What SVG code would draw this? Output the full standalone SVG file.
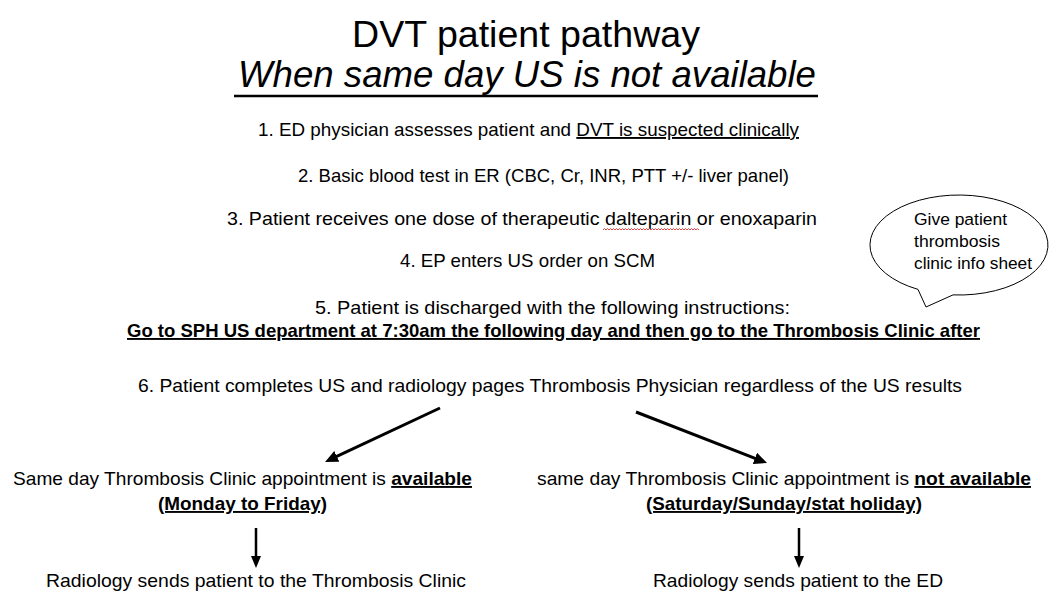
<svg xmlns="http://www.w3.org/2000/svg" width="1050" height="595" viewBox="0 0 1050 595">
  <style>
    text { font-family: "Liberation Sans", Arial, sans-serif; fill: #000; }
    .body { font-size: 19px; }
    .call { font-size: 16.7px; }
    .b { font-weight: bold; }
    .u { text-decoration: underline; text-decoration-skip-ink: none; }
    .conn { stroke: #000; fill: none; }
  </style>
  <defs>
    <marker id="ah" markerUnits="userSpaceOnUse" markerWidth="14" markerHeight="12" refX="3" refY="6" orient="auto">
      <path d="M0,0 L13,6 L0,12 z" fill="#000"/>
    </marker>
    <marker id="ahs" markerUnits="userSpaceOnUse" markerWidth="13" markerHeight="11" refX="2" refY="5" orient="auto">
      <path d="M0,0 L12,5 L0,10 z" fill="#000"/>
    </marker>
  </defs>
  <rect width="1050" height="595" fill="#fff"/>

  <g id="title">
    <text x="352" y="47" font-size="36" textLength="348" lengthAdjust="spacingAndGlyphs">DVT patient pathway</text>
    <text x="238" y="87" font-size="36" font-style="italic" textLength="578" lengthAdjust="spacingAndGlyphs">When same day US is not available</text>
    <line x1="234" y1="96" x2="818" y2="96" stroke="#000" stroke-width="2.6"/>
  </g>

  <g id="step1">
    <text class="body" x="258" y="136" textLength="541" lengthAdjust="spacingAndGlyphs">1. ED physician assesses patient and <tspan class="u">DVT is suspected clinically</tspan></text>
  </g>
  <g id="step2">
    <text class="body" x="298" y="182" textLength="491" lengthAdjust="spacingAndGlyphs">2. Basic blood test in ER (CBC, Cr, INR, PTT +/- liver panel)</text>
  </g>
  <g id="step3">
    <text class="body" x="227" y="225" textLength="590" lengthAdjust="spacingAndGlyphs">3. Patient receives one dose of therapeutic dalteparin or enoxaparin</text>
    <path d="M603,230 l1.5,-1.5 l1.5,1.5 l1.5,-1.5 l1.5,1.5 l1.5,-1.5 l1.5,1.5 l1.5,-1.5 l1.5,1.5 l1.5,-1.5 l1.5,1.5 l1.5,-1.5 l1.5,1.5 l1.5,-1.5 l1.5,1.5 l1.5,-1.5 l1.5,1.5 l1.5,-1.5 l1.5,1.5 l1.5,-1.5 l1.5,1.5 l1.5,-1.5 l1.5,1.5 l1.5,-1.5 l1.5,1.5 l1.5,-1.5 l1.5,1.5 l1.5,-1.5 l1.5,1.5 l1.5,-1.5 l1.5,1.5 l1.5,-1.5 l1.5,1.5 l1.5,-1.5 l1.5,1.5 l1.5,-1.5 l1.5,1.5 l1.5,-1.5 l1.5,1.5 l1.5,-1.5 l1.5,1.5 l1.5,-1.5 l1.5,1.5 l1.5,-1.5 l1.5,1.5 l1.5,-1.5 l1.5,1.5 l1.5,-1.5 l1.5,1.5 l1.5,-1.5 l1.5,1.5 l1.5,-1.5 l1.5,1.5 l1.5,-1.5 l1.5,1.5 l1.5,-1.5 l1.5,1.5 l1.5,-1.5 l1.5,1.5 l1.5,-1.5 l1.5,1.5 l1.5,-1.5 l1.5,1.5 l1.5,-1.5 l1.5,1.5" fill="none" stroke="#e03030" stroke-width="0.9"/>
  </g>
  <g id="step4">
    <text class="body" x="400" y="267" textLength="255" lengthAdjust="spacingAndGlyphs">4. EP enters US order on SCM</text>
  </g>
  <g id="step5">
    <text class="body" x="315" y="314" textLength="475" lengthAdjust="spacingAndGlyphs">5. Patient is discharged with the following instructions:</text>
    <text class="body b u" x="127" y="337" textLength="853" lengthAdjust="spacingAndGlyphs">Go to SPH US department at 7:30am the following day and then go to the Thrombosis Clinic after</text>
  </g>
  <g id="callout">
    <path d="M953,294.9 A89,50 0 1 0 918,289.4 L926,307 Z" fill="#fff" stroke="#000" stroke-width="1"/>
    <text class="call" x="914" y="225" textLength="93" lengthAdjust="spacingAndGlyphs">Give patient</text>
    <text class="call" x="914" y="247" textLength="86" lengthAdjust="spacingAndGlyphs">thrombosis</text>
    <text class="call" x="914" y="269" textLength="118" lengthAdjust="spacingAndGlyphs">clinic info sheet</text>
  </g>
  <g id="step6">
    <text class="body" x="138" y="392" textLength="824" lengthAdjust="spacingAndGlyphs">6. Patient completes US and radiology pages Thrombosis Physician regardless of the US results</text>
  </g>

  <g id="branch-available">
    <text class="body" x="13" y="485" textLength="459" lengthAdjust="spacingAndGlyphs">Same day Thrombosis Clinic appointment is <tspan class="b u">available</tspan></text>
    <text class="body b u" x="158" y="510" textLength="169" lengthAdjust="spacingAndGlyphs">(Monday to Friday)</text>
  </g>
  <g id="branch-not-available">
    <text class="body" x="537" y="485" textLength="494" lengthAdjust="spacingAndGlyphs">same day Thrombosis Clinic appointment is <tspan class="b u">not available</tspan></text>
    <text class="body b u" x="646" y="510" textLength="276" lengthAdjust="spacingAndGlyphs">(Saturday/Sunday/stat holiday)</text>
  </g>
  <g id="result-clinic">
    <text class="body" x="46" y="587" textLength="420" lengthAdjust="spacingAndGlyphs">Radiology sends patient to the Thrombosis Clinic</text>
  </g>
  <g id="result-ed">
    <text class="body" x="653" y="587" textLength="290" lengthAdjust="spacingAndGlyphs">Radiology sends patient to the ED</text>
  </g>

  <g id="connectors">
    <line class="conn" x1="440" y1="408" x2="334.1" y2="457.7" stroke-width="3" marker-end="url(#ah)"/>
    <line class="conn" x1="636" y1="412" x2="757.7" y2="459.4" stroke-width="3" marker-end="url(#ah)"/>
    <line class="conn" x1="256" y1="528" x2="256" y2="558" stroke-width="2.5" marker-end="url(#ahs)"/>
    <line class="conn" x1="799" y1="528" x2="799" y2="558" stroke-width="2.5" marker-end="url(#ahs)"/>
  </g>
</svg>
